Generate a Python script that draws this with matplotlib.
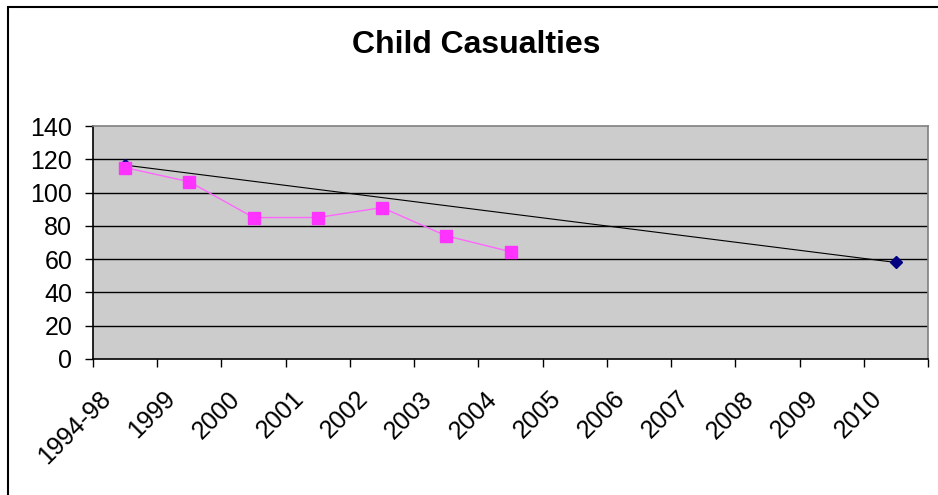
import matplotlib
matplotlib.use("Agg")
import matplotlib.pyplot as plt
from matplotlib.transforms import ScaledTranslation
import numpy as np

plt.rcParams['font.family'] = ['Liberation Sans', 'DejaVu Sans']

categories = ["1994-98", "1999", "2000", "2001", "2002", "2003", "2004",
              "2005", "2006", "2007", "2008", "2009", "2010"]
casualties = [115, 106.5, 85, 85, 91, 74, 64.5]
target_labels = ["1994-98", "2010"]
target_values = [116.5, 58]
y_ticks = [0, 20, 40, 60, 80, 100, 120, 140]

fig = plt.figure(figsize=(9.38, 4.95), dpi=100)
fig.patch.set_facecolor("white")

# outer chart border
fig.add_artist(plt.Rectangle((8 / 938, -0.05), 1.0, 1 - 7 / 495 + 0.05,
                             transform=fig.transFigure, fill=False,
                             edgecolor="black", linewidth=1.5))

ax = fig.add_axes([93 / 938, (495 - 359) / 495, 835 / 938, 233 / 495])
ax.set_facecolor("#CCCCCC")

x_all = np.arange(len(categories))
idx = {c: i for i, c in enumerate(categories)}

for y in y_ticks[1:-1]:
    ax.axhline(y, color="black", linewidth=1.0, zorder=1)

tx = [idx[c] for c in target_labels]
ax.plot(tx, target_values, color="black", linewidth=0.8, marker="D",
        markersize=6, markerfacecolor="#000080", markeredgecolor="#000080",
        zorder=2)

cx = x_all[:len(casualties)]
ax.plot(cx, casualties, color="#FF66FF", linewidth=1.0, marker="s",
        markersize=9, markerfacecolor="#FF33FF", markeredgecolor="#FF33FF",
        zorder=3)

ax.set_xlim(-0.5, len(categories) - 0.5)
ax.set_ylim(0, 140)
ax.set_yticks(y_ticks)
ax.set_yticklabels([str(v) for v in y_ticks], fontsize=18)
ax.set_xticks(x_all)
ax.set_xticklabels(categories, fontsize=18, rotation=45,
                   ha="right", rotation_mode="anchor")
ax.set_xticks(np.arange(len(categories) + 1) - 0.5, minor=True)
ax.tick_params(axis="x", which="major", length=0, pad=22)
ax.tick_params(axis="x", which="minor", length=6, width=1, direction="out")
ax.tick_params(axis="y", length=6, width=1, direction="out", pad=9)

# shift the slanted category labels slightly left of their slots
shift = ScaledTranslation(-0.26, 0.03, fig.dpi_scale_trans)
for lab in ax.get_xticklabels():
    lab.set_transform(lab.get_transform() + shift)

for s in ["left", "bottom"]:
    ax.spines[s].set_color("black")
    ax.spines[s].set_linewidth(1.2)
for s in ["top", "right"]:
    ax.spines[s].set_color("#808080")
    ax.spines[s].set_linewidth(1.2)

fig.text(476 / 938, 1 - 53 / 495, "Child Casualties", ha="center",
         va="baseline", fontsize=23, fontweight="bold")

fig.savefig("out.png", dpi=100, facecolor="white")
